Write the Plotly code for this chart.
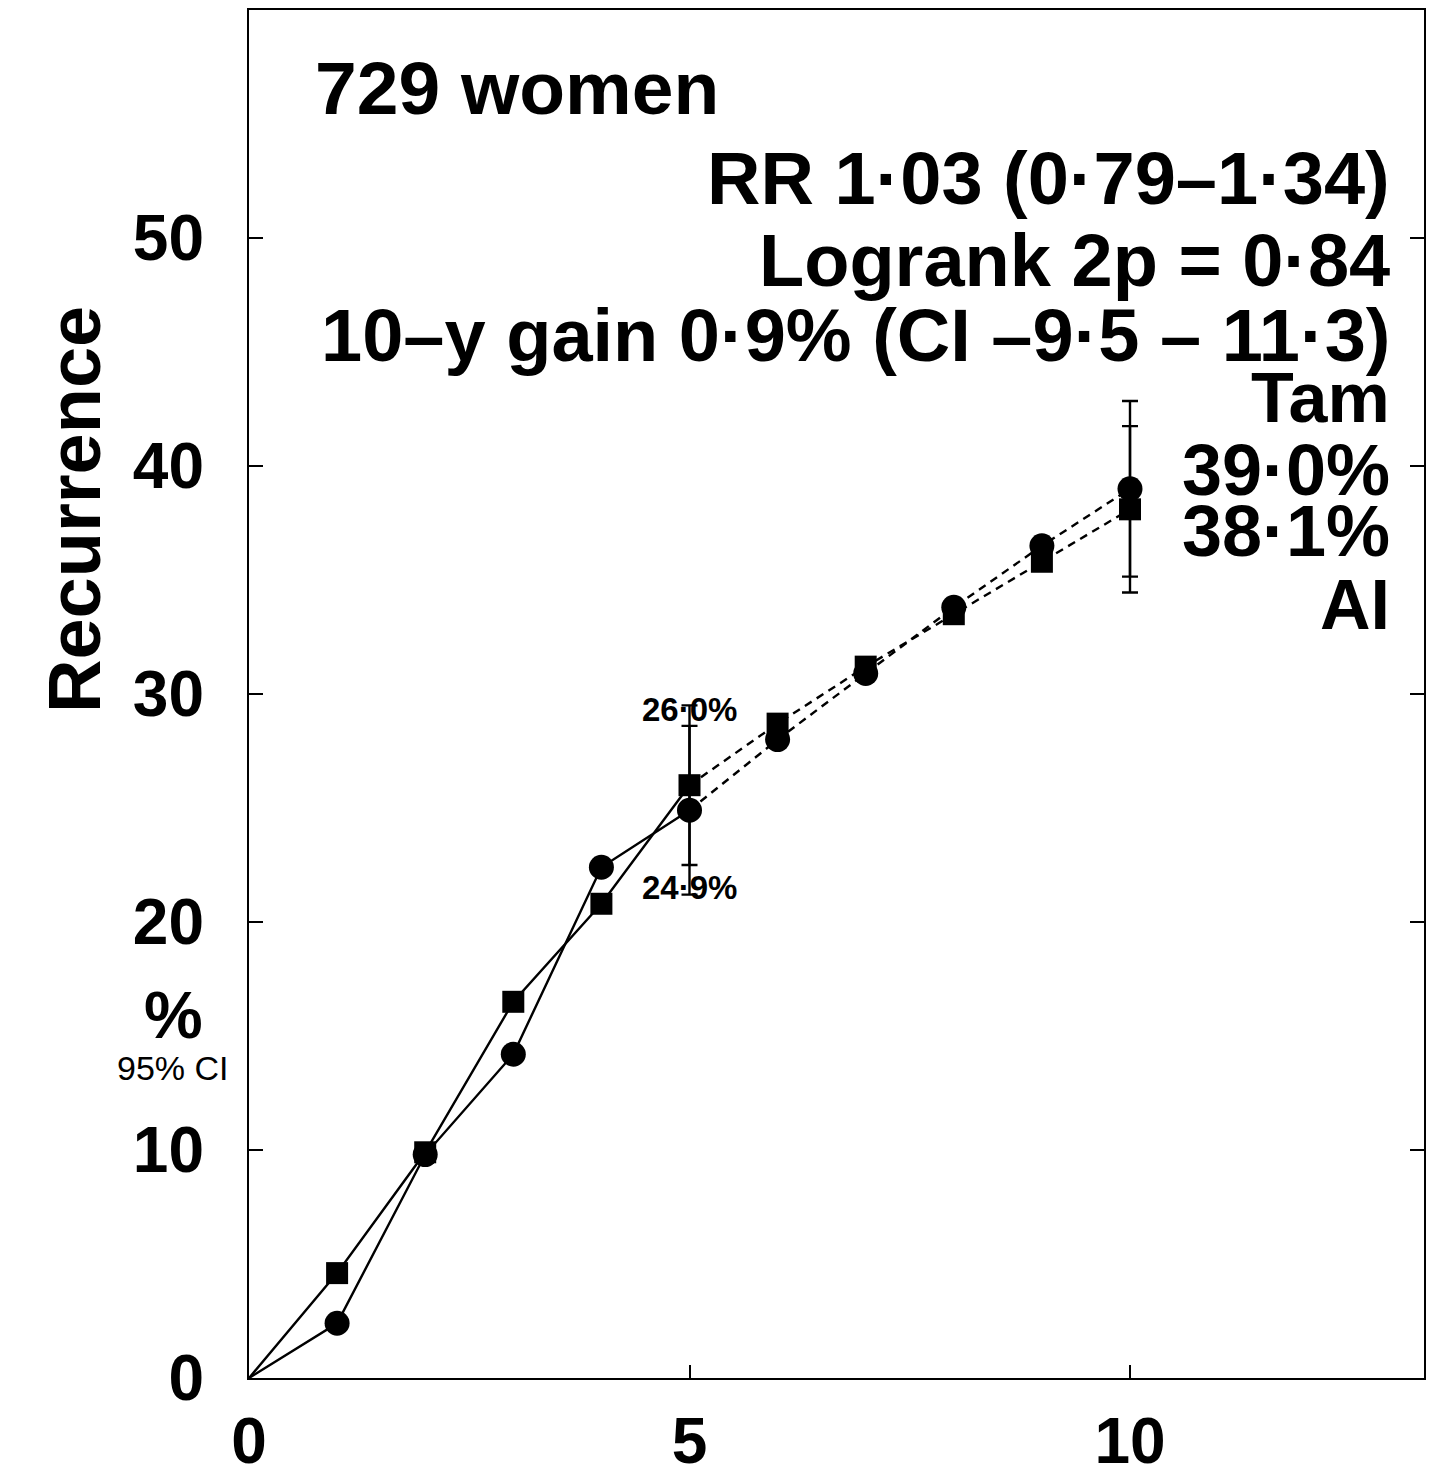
import plotly.graph_objects as go

# Years of follow-up and cumulative recurrence (%) for each arm
years = [0, 1, 2, 3, 4, 5, 6, 7, 8, 9, 10]
tam = [0, 2.4, 9.8, 14.2, 22.4, 24.9, 28.0, 30.9, 33.8, 36.5, 39.0]
ai = [0, 4.6, 9.9, 16.5, 20.8, 26.0, 28.7, 31.2, 33.5, 35.8, 38.1]

# 95% CI half-widths at 5 and 10 years
tam_ci = {5: 3.7, 10: 3.85}
ai_ci = {5: 3.5, 10: 3.65}

y_ticks = [0, 10, 20, 30, 40, 50]
x_ticks = [0, 5, 10]

stats_lines = [
    "RR 1·03 (0·79–1·34)",
    "Logrank 2p = 0·84",
    "10–y gain 0·9% (CI –9·5 – 11·3)",
]

FONT = "Liberation Sans, Arial, Helvetica, sans-serif"
W, H = 1451, 1477
L, R, T, B = 249, 1424, 10, 1378


def px(x):
    return (x - L) / (R - L)


def py(y):
    return (B - y) / (B - T)


fig = go.Figure()

for vals in (tam, ai):
    # first 5 years solid, years 5-10 dashed
    fig.add_trace(go.Scatter(x=years[:6], y=vals[:6], mode="lines",
                             line=dict(color="black", width=2.4),
                             showlegend=False, hoverinfo="skip"))
    fig.add_trace(go.Scatter(x=years[5:], y=vals[5:], mode="lines",
                             line=dict(color="black", width=2.4, dash="8px,6px"),
                             showlegend=False, hoverinfo="skip"))


def err_list(ci):
    return [ci.get(t, None) for t in years[1:]]


fig.add_trace(go.Scatter(
    x=years[1:], y=ai[1:], mode="markers", name="AI",
    marker=dict(symbol="square", size=22, color="black"),
    error_y=dict(type="data", array=err_list(ai_ci), symmetric=True,
                 color="black", thickness=2.4, width=8),
    showlegend=False))
fig.add_trace(go.Scatter(
    x=years[1:], y=tam[1:], mode="markers", name="Tam",
    marker=dict(symbol="circle", size=25, color="black"),
    error_y=dict(type="data", array=err_list(tam_ci), symmetric=True,
                 color="black", thickness=2.4, width=8),
    showlegend=False))

ann = []


def add_text(text, x, y, size, xanchor="center", bold=True, angle=0):
    ann.append(dict(
        text=text, x=px(x), y=py(y), xref="paper", yref="paper",
        xanchor=xanchor, yanchor="middle", showarrow=False, textangle=angle,
        font=dict(family=FONT, size=size, color="black",
                  weight="bold" if bold else "normal")))


add_text("729 women", 313, 88, 75, xanchor="left")
for txt, yy in zip(stats_lines, [178, 260, 335]):
    add_text(txt, 1392, yy, 74, xanchor="right")

add_text("Tam", 1392, 398, 70, xanchor="right")
add_text(f"{tam[10]:.1f}%".replace(".", "·"), 1392, 470, 72, xanchor="right")
add_text(f"{ai[10]:.1f}%".replace(".", "·"), 1392, 531, 72, xanchor="right")
add_text("AI", 1392, 605, 70, xanchor="right")

add_text(f"{ai[5]:.1f}%".replace(".", "·"), 689, 709, 33)
add_text(f"{tam[5]:.1f}%".replace(".", "·"), 689, 887, 33)

add_text("Recurrence", 75, 510, 74, angle=-90)
add_text("%", 173, 1015, 66)
add_text("95% CI", 173, 1068, 34, bold=False)

fig.update_layout(
    width=W, height=H,
    margin=dict(l=L, r=W - R, t=T, b=H - B, pad=0, autoexpand=False),
    paper_bgcolor="white", plot_bgcolor="white",
    annotations=ann,
    xaxis=dict(range=[0, (R - L) / 88.1], tickvals=x_ticks,
               ticktext=[str(v) for v in x_ticks], automargin=False,
               showgrid=False, zeroline=False, showline=True, mirror=True,
               linecolor="black", linewidth=2.4,
               ticks="inside", ticklen=13, tickwidth=2.4, tickcolor="black",
               ticklabelstandoff=6,
               tickfont=dict(family=FONT, size=64, color="black", weight="bold")),
    yaxis=dict(range=[0, 60], tickvals=y_ticks,
               ticktext=[str(v) for v in y_ticks], automargin=False,
               showgrid=False, zeroline=False, showline=True, mirror="ticks",
               linecolor="black", linewidth=2.4,
               ticks="inside", ticklen=14, tickwidth=2.4, tickcolor="black",
               ticklabelstandoff=30,
               tickfont=dict(family=FONT, size=64, color="black", weight="bold")),
)

fig.write_html("out.html")
